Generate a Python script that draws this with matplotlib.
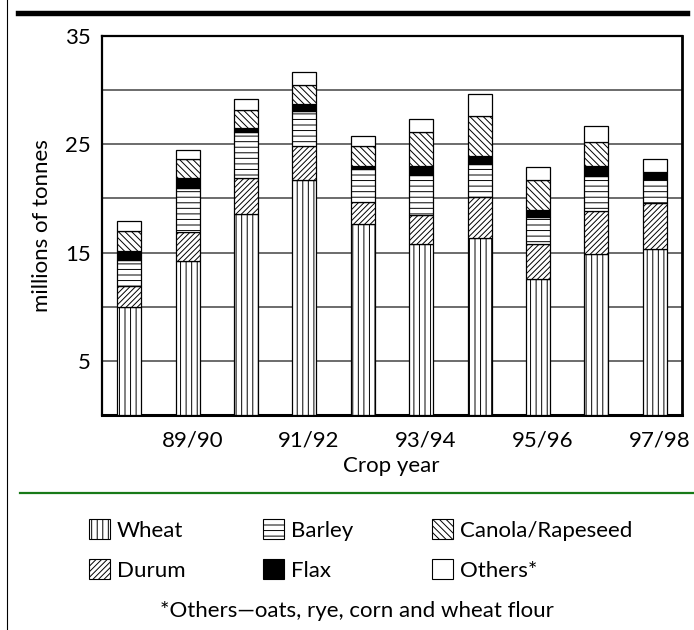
import matplotlib
matplotlib.use("Agg")
import matplotlib.pyplot as plt
from matplotlib.patches import Patch
from matplotlib.lines import Line2D
import numpy as np

years = ['88/89', '89/90', '90/91', '91/92', '92/93', '93/94', '94/95', '95/96', '96/97', '97/98']
wheat = [10.0, 14.2, 18.6, 21.7, 17.6, 15.75, 16.3, 12.6, 14.9, 15.3]
durum = [1.9, 2.7, 3.3, 3.1, 2.1, 2.75, 3.8, 3.15, 3.9, 4.3]
barley = [2.4, 4.1, 4.2, 3.3, 3.0, 3.7, 3.1, 2.55, 3.3, 2.2]
flax = [0.8, 0.9, 0.4, 0.6, 0.3, 0.75, 0.7, 0.6, 0.85, 0.6]
canola = [1.9, 1.75, 1.7, 1.8, 1.8, 3.2, 3.7, 2.8, 2.25, 0.0]
others = [0.9, 0.85, 1.0, 1.2, 0.95, 1.2, 2.0, 1.2, 1.5, 1.2]

plt.rcParams['font.family'] = ['Lato', 'DejaVu Sans']
plt.rcParams['hatch.linewidth'] = 0.7

series = [
    ("Wheat", wheat, 'white', '|||'),
    ("Durum", durum, 'white', '//////'),
    ("Barley", barley, 'white', '---'),
    ("Flax", flax, 'black', None),
    ("Canola/Rapeseed", canola, 'white', '\\\\\\\\\\'),
    ("Others*", others, 'white', None),
]

fs = 16

fig = plt.figure(figsize=(6.94, 6.30), dpi=100)
ax = fig.add_axes([101.7 / 694, 1 - 415 / 630, 580 / 694, 379 / 630])

x = np.arange(len(years))
bottom = np.zeros(len(years))
for name, vals, fc, hatch in series:
    vals = np.array(vals)
    ax.bar(x, vals, width=0.41, bottom=bottom, color=fc, edgecolor='black',
           hatch=hatch, linewidth=0.9, zorder=3)
    bottom += vals

ax.set_xlim(-0.47, 9.46)
ax.set_ylim(0, 35)
ax.set_yticks([5, 15, 25, 35])
ax.set_yticks([10, 20, 30], minor=True)
ax.yaxis.grid(True, which='both', color='#444444', linewidth=1.1, zorder=0)
ax.set_axisbelow(True)
ax.tick_params(axis='y', length=0, labelsize=fs, pad=8)
ax.tick_params(axis='y', which='minor', length=0)
ax.set_xticks(x[1::2] + 0.08)
ax.set_xticklabels(years[1::2])
ax.tick_params(axis='x', length=0, labelsize=fs, pad=11)
ax.set_ylabel("millions of tonnes", fontsize=fs, labelpad=9)
ax.set_xlabel("Crop year", fontsize=fs, labelpad=4)
for side, lw in [('left', 1.6), ('bottom', 2.2), ('right', 2.0), ('top', 1.6)]:
    ax.spines[side].set_linewidth(lw)
    ax.spines[side].set_color('black')

# page decorations
fig.add_artist(Line2D([18 / 694, 687 / 694], [1 - 13.3 / 630] * 2, color='black', linewidth=3.9))
fig.add_artist(Line2D([7 / 694] * 2, [0, 1], color='black', linewidth=0.8))
fig.add_artist(Line2D([20 / 694, 1], [1 - 493.3 / 630] * 2, color='#187a18', linewidth=1.6))

# legend, one column at a time
cols = [(series[0], series[1], 89), (series[2], series[3], 263), (series[4], series[5], 432)]
for top_item, bot_item, px in cols:
    handles = []
    labels = []
    for name, vals, fc, hatch in (top_item, bot_item):
        handles.append(Patch(facecolor=fc, edgecolor='black', hatch=hatch, linewidth=0.8))
        labels.append(name)
    fig.legend(handles, labels, loc='upper left', bbox_to_anchor=(px / 694, 1 - 519 / 630),
               frameon=False, fontsize=fs, handlelength=0.95, handleheight=1.0,
               handletextpad=0.3, labelspacing=0.85, borderpad=0, borderaxespad=0)

fig.text(357 / 694, 1 - 611 / 630, "*Others\u2014oats, rye, corn and wheat flour",
         ha='center', va='center', fontsize=fs)

fig.savefig("out.png", dpi=100)
